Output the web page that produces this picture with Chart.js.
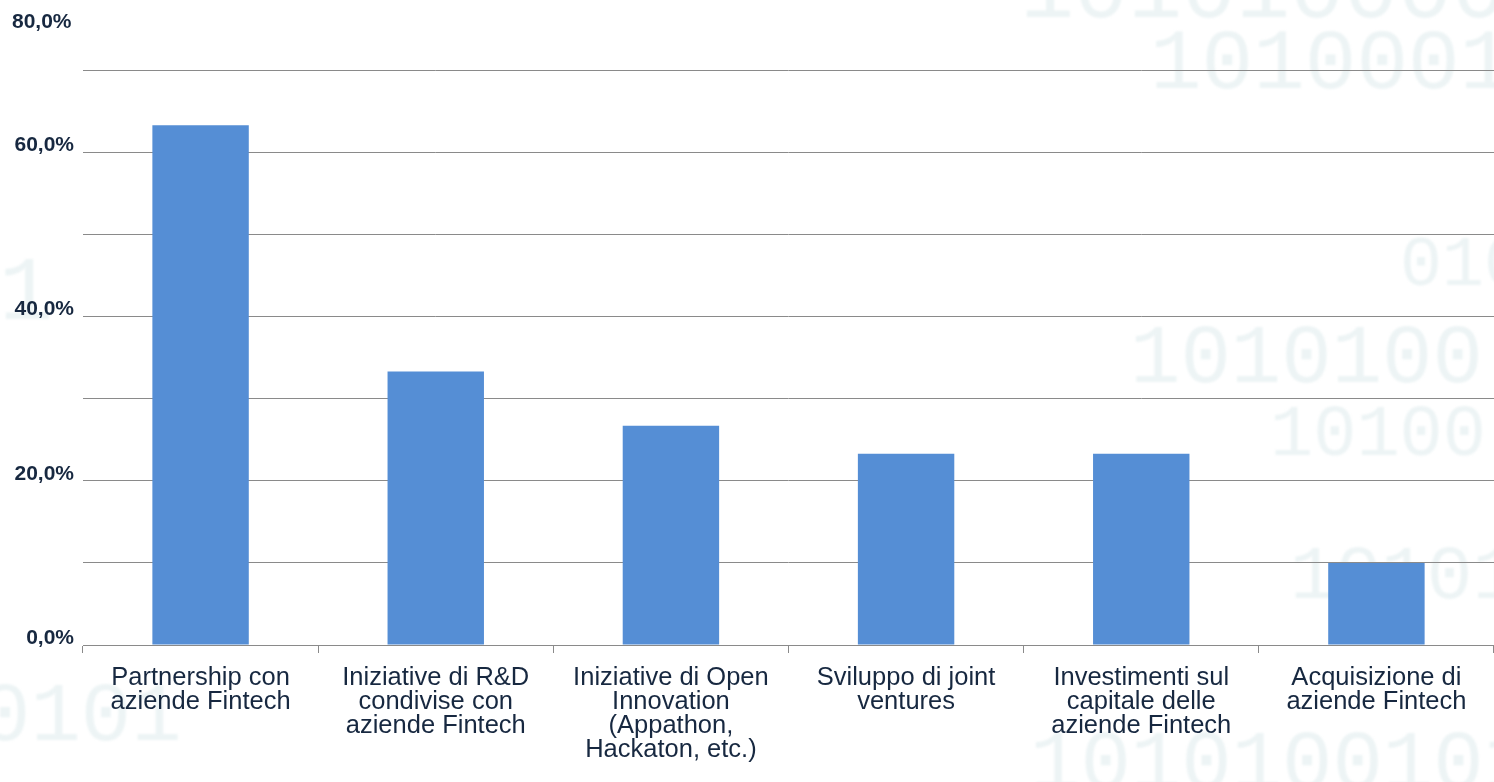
<!DOCTYPE html>
<html>
<head>
<meta charset="utf-8">
<script src="https://cdn.jsdelivr.net/npm/chart.js@4.4.1/dist/chart.umd.min.js"></script>
<style>
  html, body { margin: 0; padding: 0; background: #ffffff; overflow: hidden; }
  #wrap { position: relative; width: 1494px; height: 782px; }
  .bg { position: absolute; font-family: "Liberation Mono", "DejaVu Sans Mono", monospace; color: #edf4f5; white-space: nowrap; line-height: 1; filter: blur(1px); }
  canvas { position: absolute; left: 0; top: 0; }
</style>
</head>
<body>
<div id="wrap">
  <div class="bg" style="left:1020px; top:-52px; font-size:90px;">1010100001</div>
  <div class="bg" style="left:1150px; top:22px; font-size:86px;">1010001</div>
  <div class="bg" style="left:1400px; top:232px; font-size:70px;">010</div>
  <div class="bg" style="left:1130px; top:318px; font-size:84px;">1010100</div>
  <div class="bg" style="left:1270px; top:400px; font-size:72px;">10100</div>
  <div class="bg" style="left:1290px; top:540px; font-size:76px;">10101</div>
  <div class="bg" style="left:1030px; top:724px; font-size:84px;">1010100101</div>
  <div class="bg" style="left:-20px; top:676px; font-size:84px;">0101</div>
  <div class="bg" style="left:-55px; top:250px; font-size:90px;">01</div>
  <canvas id="myChart" width="1494" height="782"></canvas>
</div>
<script>
const categories = [
    ['Partnership con', 'aziende Fintech'],
    ['Iniziative di R&D', 'condivise con', 'aziende Fintech'],
    ['Iniziative di Open', 'Innovation', '(Appathon,', 'Hackaton, etc.)'],
    ['Sviluppo di joint', 'ventures'],
    ['Investimenti sul', 'capitale delle', 'aziende Fintech'],
    ['Acquisizione di', 'aziende Fintech']
];
const values = [63.3, 33.3, 26.7, 23.3, 23.3, 10.0];
const yLabels = [0, 20, 40, 60];
const topLabel = '80,0%';

const navy = '#172840';
const gridGray = '#8a8a8a';

function fmtPct (v) {
    return v.toFixed(1).replace('.', ',') + '%';
}

var ctx = document.getElementById('myChart').getContext('2d');
var myChart = new Chart(ctx, {
    type: 'bar',
    data: {
        labels: categories,
        datasets: [{
            data: values,
            backgroundColor: '#558ed5',
            borderWidth: 0,
            barPercentage: 0.41,
            categoryPercentage: 1.0
        }]
    },
    options: {
        responsive: false,
        animation: false,
        layout: { padding: { left: 12, right: 0, top: 0, bottom: 0 } },
        plugins: {
            legend: { display: false },
            tooltip: { enabled: false },
            title: {
                display: true,
                text: topLabel,
                align: 'start',
                color: navy,
                font: { family: '"Liberation Sans", Arial, sans-serif', size: 21, weight: 'bold', lineHeight: 1.2 },
                padding: { top: 10, bottom: 35 }
            }
        },
        scales: {
            x: {
                grid: {
                    offset: true,
                    drawOnChartArea: false,
                    drawTicks: true,
                    tickLength: 8,
                    color: gridGray
                },
                border: { display: true, color: gridGray, width: 1 },
                ticks: {
                    color: navy,
                    padding: 13,
                    maxRotation: 0,
                    autoSkip: false,
                    font: { family: '"Liberation Sans", Arial, sans-serif', size: 25.5, lineHeight: 0.94 }
                },
                afterFit: (scale) => { scale.height = 137; }
            },
            y: {
                min: 0,
                max: 70,
                border: { display: false },
                grid: {
                    color: gridGray,
                    lineWidth: 1,
                    drawTicks: false
                },
                ticks: {
                    stepSize: 10,
                    padding: 9,
                    labelOffset: -7,
                    color: navy,
                    font: { family: '"Liberation Sans", Arial, sans-serif', size: 21, weight: 'bold' },
                    callback: (v) => yLabels.includes(v) ? fmtPct(v) : ''
                },
                afterFit: (scale) => { scale.width = 71; }
            }
        }
    }
});
</script>
</body>
</html>
